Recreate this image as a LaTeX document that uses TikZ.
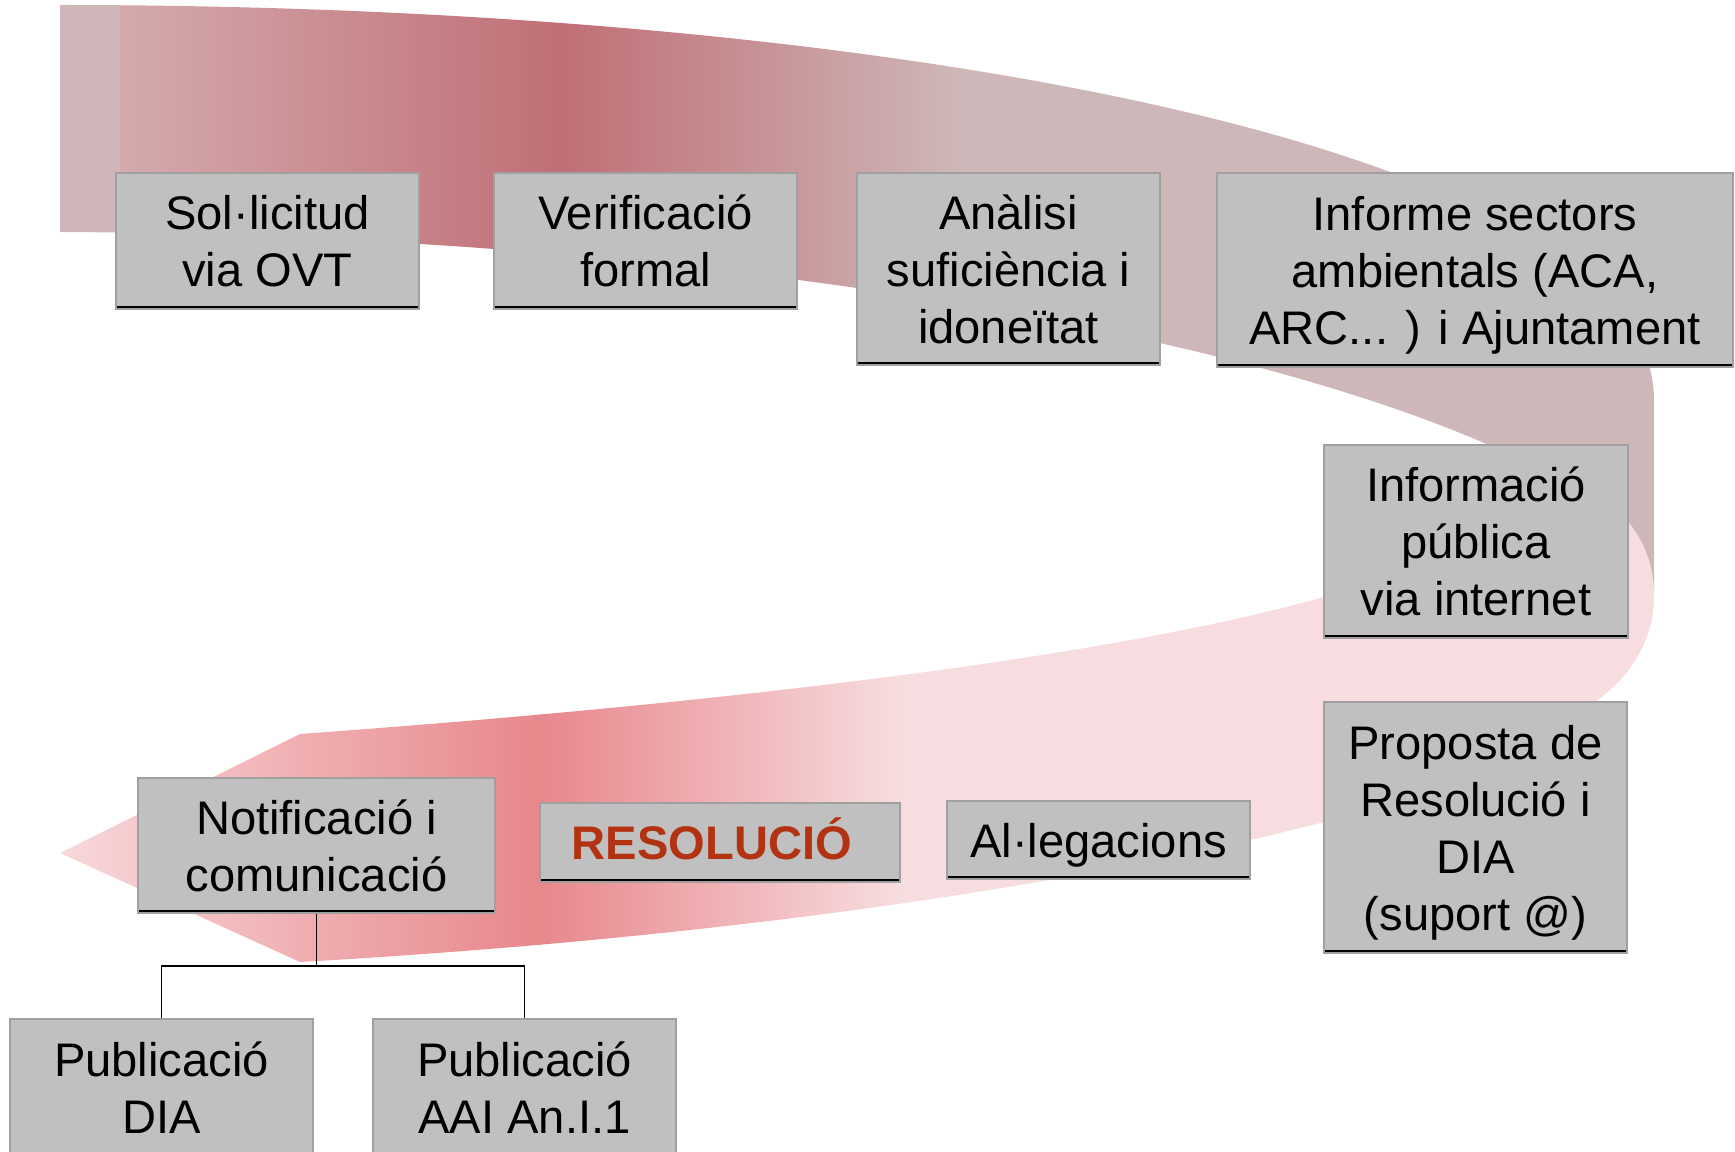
\documentclass[tikz,border=0pt]{standalone}
\usepackage{amsmath}
\usepackage{fontspec}
\setmainfont{Liberation Sans}
\usepackage{tikz}
\definecolor{boxgray}{RGB}{192,192,192}
\definecolor{boxedge}{RGB}{160,160,160}
\definecolor{resred}{RGB}{178,50,18}
\definecolor{upA}{RGB}{207,182,184}
\definecolor{upB}{RGB}{212,170,173}
\definecolor{upC}{RGB}{192,111,117}
\definecolor{upD}{RGB}{206,183,184}
\definecolor{loA}{RGB}{248,218,220}
\definecolor{loB}{RGB}{240,175,178}
\definecolor{loC}{RGB}{232,135,140}
\definecolor{loD}{RGB}{247,221,223}
\tikzset{
    BX/.style ={rectangle, fill=boxgray, draw=boxedge, line width=.4pt, inner sep=0pt, align=center,
        font=\fontsize{13.4pt}{16.2pt}\selectfont,
        path picture={\draw[black, line width=1.6pt] (path picture bounding box.south west) -- (path picture bounding box.south east);}},
    BF/.style ={font=\fontsize{13.4pt}{16.2pt}\selectfont\bfseries, text=resred, text height=9.6pt, text depth=0pt},
    LN/.style ={black, line width=.5pt}
}
\begin{document}
\begin{tikzpicture}[x=0.01cm, y=-0.01cm]
    \useasboundingbox (0,0) rectangle (1735,1152);
    % upper band
    \begin{scope}
        \clip (60,5) .. controls (900,5) and (1654,150) .. (1654,400) -- (1654,592) -- (1600,592)
            -- (1560,480) .. controls (1300,335) and (700,235) .. (60,232) -- cycle;
        \fill[upA] (50,0) rectangle (121,600);
        \shade[left color=upB, right color=upC] (120,0) rectangle (561,600);
        \shade[left color=upC, right color=upD] (560,0) rectangle (961,600);
        \fill[upD] (960,0) rectangle (1700,600);
    \end{scope}
    % lower band
    \begin{scope}
        \clip (1590,490) .. controls (1640,520) and (1655,560) .. (1654,600)
            .. controls (1653,640) and (1630,680) .. (1590,705)
            .. controls (1500,760) and (1400,800) .. (1324,822)
            .. controls (1000,905) and (600,945) .. (300,962) -- (60,853) -- (300,734)
            .. controls (700,705) and (1100,660) .. (1324,597) -- cycle;
        \shade[left color=loA, right color=loB] (50,480) rectangle (301,1000);
        \shade[left color=loB, right color=loC] (300,480) rectangle (541,1000);
        \shade[left color=loC, right color=loD] (540,480) rectangle (901,1000);
        \fill[loD] (900,480) rectangle (1700,1000);
    \end{scope}
    % boxes
    \node[BX, minimum width=3.03cm, minimum height=1.36cm] (sol) at (267.5,241) {Sol·licitud\\via OVT};
    \node[BX, minimum width=3.03cm, minimum height=1.36cm] (verif) at (645.5,241) {Verificació\\formal};
    \node[BX, minimum width=3.03cm, minimum height=1.92cm] (analisi) at (1008.5,269) {Anàlisi\\suficiència i\\idoneïtat};
    \node[BX, minimum width=5.16cm, minimum height=1.94cm] (informe) at (1475,270) {Informe sectors\\ambientals (ACA,\\\smash[b]{ARC... ) i Ajuntament}};
    \node[BX, minimum width=3.04cm, minimum height=1.93cm] (infopub) at (1476,541.5) {Informació\\pública\\via internet};
    \node[BX, minimum width=3.03cm, minimum height=2.51cm] (proposta) at (1475.5,827.5) {Proposta de\\Resolució i\\DIA\\\smash[b]{(suport @)}};
    \node[BX, minimum width=3.03cm, minimum height=.78cm] (allega) at (1098.5,840) {\smash[b]{Al·legacions}};
    \node[BX, BF, minimum width=3.60cm, minimum height=.79cm] (resol) at (720,842.5) {RESOLUCIÓ\hspace*{.16cm}};
    \node[BX, minimum width=3.57cm, minimum height=1.35cm] (notif) at (316.5,845.5) {Notificació i\\comunicació};
    \node[BX, minimum width=3.03cm, minimum height=1.38cm] (pubdia) at (161.5,1088) {Publicació\\DIA};
    \node[BX, minimum width=3.03cm, minimum height=1.38cm] (pubaai) at (524.5,1088) {Publicació\\AAI An.I.1};
    % branch
    \coordinate (jn) at (316.5,966);
    \draw[LN] (notif.south) -- (jn);
    \draw[LN] (pubdia.north) |- (jn) -| (pubaai.north);
\end{tikzpicture}
\end{document}
